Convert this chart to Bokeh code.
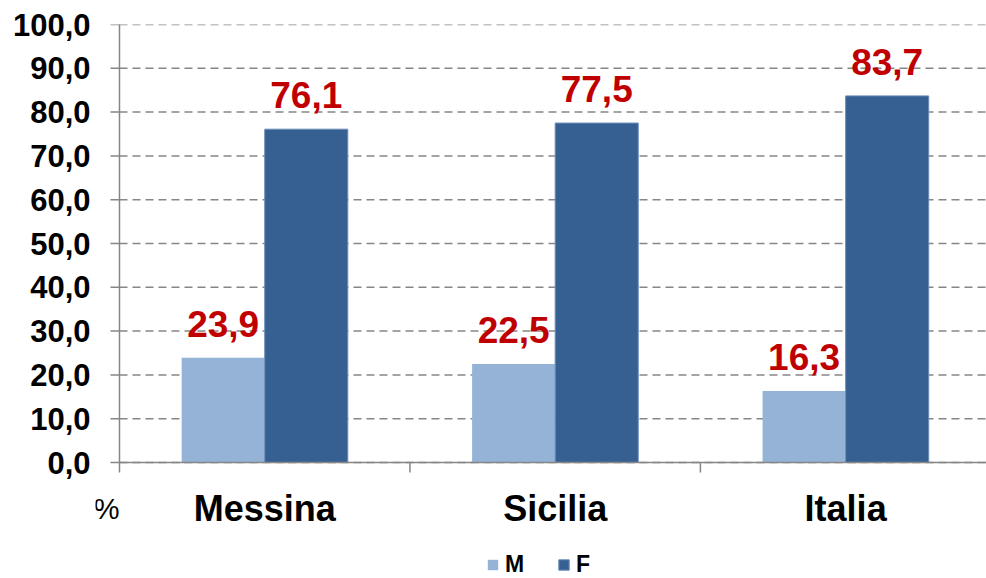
import math
from bokeh.plotting import figure
from bokeh.models import (Range1d, FixedTicker, Legend, LegendItem,
                          ColumnDataSource)
from bokeh.core.properties import value
from bokeh.embed import file_html
from bokeh.resources import INLINE
import numpy as np

# ---- data ----
categories = ["Messina", "Sicilia", "Italia"]
series_names = ["M", "F"]
m_values = [23.9, 22.5, 16.3]
f_values = [76.1, 77.5, 83.7]
y_ticks = [0, 10, 20, 30, 40, 50, 60, 70, 80, 90, 100]
y_tick_labels = ["0,0", "10,0", "20,0", "30,0", "40,0", "50,0",
                 "60,0", "70,0", "80,0", "90,0", "100,0"]
unit_label = "%"

FONT = "Liberation Sans"
GRAY = "#868686"
C_M = "#95B3D7"
C_F = "#366092"
C_LBL = "#C00000"

bar_w = 0.286
idx = np.arange(len(categories))
centers = idx + 0.5
bounds = np.arange(len(categories) + 1)

def fmt(v):
    return f"{v:.1f}".replace(".", ",")

src_m = ColumnDataSource(dict(x=centers - bar_w / 2, top=m_values,
                              lbl=[fmt(v) for v in m_values]))
src_f = ColumnDataSource(dict(x=centers + bar_w / 2, top=f_values,
                              lbl=[fmt(v) for v in f_values]))

# frame covers the whole area right of the tick labels, down to the page bottom
p = figure(frame_width=891, frame_height=554, output_backend="svg",
           toolbar_location=None, x_axis_location=None,
           x_range=Range1d(-0.0826, 2.985), y_range=Range1d(-26.48, 100),
           min_border_left=95, min_border_right=0, min_border_top=24,
           min_border_bottom=0)
p.outline_line_color = None
p.background_fill_color = "white"
p.border_fill_color = "white"
p.xgrid.grid_line_color = None
p.ygrid.grid_line_color = None

# dashed gridlines from the value axis to the right
p.ray(x=0, y=y_ticks, length=2000, length_units="screen", angle=0,
      line_color=GRAY, line_width=1.5, line_dash="8 5")

rm = p.vbar(x="x", top="top", width=bar_w, source=src_m, fill_color=C_M,
            line_color=None)
rf = p.vbar(x="x", top="top", width=bar_w, source=src_f, fill_color=C_F,
            line_color="#6A8DBA", line_width=1)

# axis lines and tick marks
p.ray(x=0, y=0, length=2000, length_units="screen", angle=0,
      line_color=GRAY, line_width=1.5)                       # category axis
p.ray(x=0, y=0, length=2000, length_units="screen", angle=math.pi / 2,
      line_color=GRAY, line_width=1.5)                       # value axis
p.ray(x=0, y=y_ticks, length=9, length_units="screen", angle=math.pi,
      line_color=GRAY, line_width=1.5)                       # value ticks
p.ray(x=bounds, y=0, length=10, length_units="screen", angle=-math.pi / 2,
      line_color=GRAY, line_width=1.5)                       # category ticks

# value labels
for src in (src_m, src_f):
    p.text(x="x", y="top", text="lbl", source=src, text_color=C_LBL,
           text_font=value(FONT), text_font_style="bold",
           text_font_size="37px", text_align="center",
           text_baseline="bottom", y_offset=-21)

# category labels
p.text(x=centers, y=0, text=categories, text_color="black",
       text_font=value(FONT), text_font_style="bold", text_font_size="36px",
       text_align="center", text_baseline="alphabetic", y_offset=46)

# unit label
p.text(x=[0], y=[0], text=[unit_label], text_color="black",
       text_font=value(FONT), text_font_size="29px",
       text_align="right", text_baseline="alphabetic", y_offset=46)

# y axis: labels only
p.yaxis.ticker = FixedTicker(ticks=y_ticks, minor_ticks=[])
p.yaxis.bounds = (0, 100)
p.yaxis.major_label_overrides = {t: l for t, l in zip(y_ticks, y_tick_labels)}
p.yaxis.major_label_text_font = FONT
p.yaxis.major_label_text_font_style = "bold"
p.yaxis.major_label_text_font_size = "31px"
p.yaxis.major_label_text_color = "black"
p.yaxis.major_label_standoff = 5
p.yaxis.axis_line_color = None
p.yaxis.major_tick_line_color = None
p.yaxis.minor_tick_line_color = None
p.yaxis.major_tick_out = 0
p.yaxis.major_tick_in = 0

legend = Legend(items=[LegendItem(label=series_names[0], renderers=[rm]),
                       LegendItem(label=series_names[1], renderers=[rf])],
                orientation="horizontal", location=(391, 0),
                label_text_font=FONT, label_text_font_style="bold",
                label_text_font_size="23px", label_text_color="black",
                glyph_width=13, glyph_height=13,
                label_standoff=6, spacing=32, padding=0, margin=0,
                border_line_color=None, background_fill_alpha=0)
p.add_layout(legend, "center")

open("out.html", "w").write(file_html(p, INLINE))
